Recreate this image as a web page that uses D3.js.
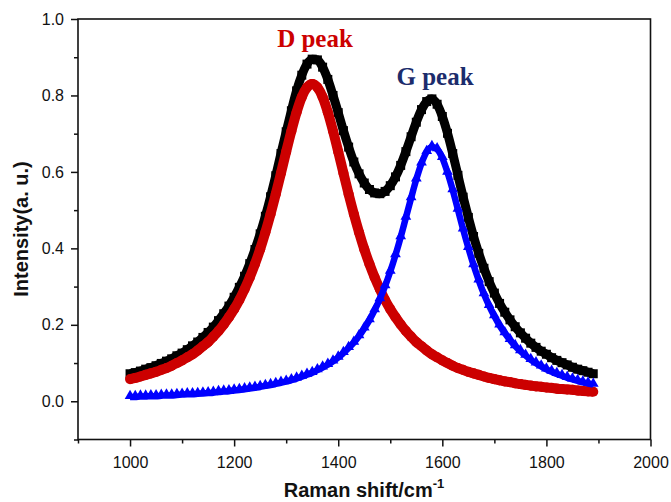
<!DOCTYPE html>
<html>
<head>
<meta charset="utf-8">
<script src="https://cdn.jsdelivr.net/npm/d3@7"></script>
<style>
  body { margin: 0; background: #fff; }
  svg { display: block; }
  .tick text { font-family: "Liberation Sans", Arial, sans-serif; font-size: 16px; fill: #111; }
</style>
</head>
<body>
<svg id="chart" width="671" height="502"></svg>
<script>
// Raman shift values (cm-1)
const shift = [1000, 1010, 1020, 1030, 1040, 1050, 1060, 1070, 1080, 1090,
  1100, 1110, 1120, 1130, 1140, 1150, 1160, 1170, 1180, 1190,
  1200, 1210, 1220, 1230, 1240, 1250, 1260, 1270, 1280, 1290,
  1300, 1310, 1320, 1330, 1340, 1350, 1360, 1370, 1380, 1390,
  1400, 1410, 1420, 1430, 1440, 1450, 1460, 1470, 1480, 1490,
  1500, 1510, 1520, 1530, 1540, 1550, 1560, 1570, 1580, 1590,
  1600, 1610, 1620, 1630, 1640, 1650, 1660, 1670, 1680, 1690,
  1700, 1710, 1720, 1730, 1740, 1750, 1760, 1770, 1780, 1790,
  1800, 1810, 1820, 1830, 1840, 1850, 1860, 1870, 1880, 1890];

// measured spectrum (black squares)
const total = [0.072, 0.075, 0.079, 0.084, 0.088, 0.093, 0.099, 0.105, 0.111, 0.119,
  0.126, 0.135, 0.145, 0.155, 0.167, 0.180, 0.194, 0.211, 0.229, 0.249,
  0.272, 0.298, 0.327, 0.360, 0.397, 0.438, 0.484, 0.535, 0.590, 0.648,
  0.705, 0.760, 0.812, 0.853, 0.882, 0.895, 0.893, 0.874, 0.842, 0.800,
  0.755, 0.708, 0.665, 0.626, 0.595, 0.571, 0.554, 0.545, 0.543, 0.549,
  0.564, 0.587, 0.617, 0.653, 0.692, 0.730, 0.763, 0.784, 0.791, 0.777,
  0.745, 0.701, 0.648, 0.591, 0.534, 0.481, 0.431, 0.387, 0.348, 0.313,
  0.283, 0.256, 0.233, 0.213, 0.195, 0.179, 0.165, 0.152, 0.141, 0.131,
  0.123, 0.114, 0.107, 0.101, 0.095, 0.089, 0.084, 0.080, 0.076, 0.072];

// D band fit (red circles)
const dPeak = [0.058, 0.061, 0.065, 0.069, 0.073, 0.077, 0.082, 0.087, 0.093, 0.100,
  0.107, 0.115, 0.123, 0.133, 0.144, 0.155, 0.169, 0.184, 0.201, 0.220,
  0.241, 0.265, 0.293, 0.324, 0.359, 0.398, 0.442, 0.490, 0.542, 0.597,
  0.653, 0.707, 0.756, 0.796, 0.821, 0.830, 0.821, 0.796, 0.756, 0.707,
  0.653, 0.597, 0.542, 0.490, 0.442, 0.398, 0.359, 0.324, 0.293, 0.265,
  0.241, 0.220, 0.201, 0.184, 0.169, 0.155, 0.144, 0.133, 0.123, 0.115,
  0.107, 0.100, 0.093, 0.087, 0.082, 0.077, 0.073, 0.069, 0.065, 0.061,
  0.058, 0.055, 0.052, 0.050, 0.047, 0.045, 0.043, 0.041, 0.039, 0.038,
  0.036, 0.035, 0.033, 0.032, 0.031, 0.030, 0.028, 0.027, 0.026, 0.025];

// G band fit (blue triangles)
const gPeak = [0.014, 0.014, 0.015, 0.015, 0.016, 0.016, 0.017, 0.018, 0.018, 0.019,
  0.020, 0.021, 0.021, 0.022, 0.023, 0.024, 0.025, 0.027, 0.028, 0.029,
  0.031, 0.032, 0.034, 0.036, 0.038, 0.040, 0.043, 0.045, 0.048, 0.051,
  0.054, 0.058, 0.062, 0.067, 0.072, 0.077, 0.084, 0.091, 0.098, 0.107,
  0.117, 0.129, 0.142, 0.156, 0.173, 0.193, 0.215, 0.241, 0.270, 0.304,
  0.342, 0.385, 0.432, 0.483, 0.534, 0.583, 0.625, 0.655, 0.668, 0.662,
  0.639, 0.601, 0.555, 0.504, 0.452, 0.404, 0.359, 0.319, 0.283, 0.252,
  0.225, 0.201, 0.181, 0.163, 0.147, 0.134, 0.122, 0.111, 0.102, 0.094,
  0.086, 0.080, 0.074, 0.069, 0.064, 0.060, 0.056, 0.052, 0.049, 0.046];

const xMajor = [1000, 1200, 1400, 1600, 1800, 2000];
const xMinor = [900, 1100, 1300, 1500, 1700, 1900];
const yMajor = [0.0, 0.2, 0.4, 0.6, 0.8, 1.0];
const yMinor = [-0.1, 0.1, 0.3, 0.5, 0.7, 0.9];

const svg = d3.select('#chart');

const x = d3.scaleLinear().domain([900, 2000]).range([78, 650.5]);
const y = d3.scaleLinear().domain([-0.1, 1.0]).range([439.5, 19]);

// minor ticks
svg.append('g')
  .attr('transform', 'translate(0,439.5)')
  .call(d3.axisBottom(x).tickValues(xMinor).tickSize(4).tickFormat(''))
  .call(g => g.select('.domain').remove());
svg.append('g')
  .attr('transform', 'translate(78,0)')
  .call(d3.axisLeft(y).tickValues(yMinor).tickSize(4).tickFormat(''))
  .call(g => g.select('.domain').remove());

// major ticks
svg.append('g')
  .attr('transform', 'translate(0,439.5)')
  .call(d3.axisBottom(x).tickValues(xMajor).tickSize(7).tickPadding(10).tickFormat(d3.format('d')))
  .call(g => g.select('.domain').remove());
svg.append('g')
  .attr('transform', 'translate(78,0)')
  .call(d3.axisLeft(y).tickValues(yMajor).tickSize(7).tickPadding(7).tickFormat(d3.format('.1f')))
  .call(g => g.select('.domain').remove());

svg.selectAll('.tick line').attr('stroke', '#111').attr('stroke-width', 1.5);

// frame
svg.append('rect')
  .attr('x', x(900)).attr('y', y(1.0))
  .attr('width', x(2000) - x(900)).attr('height', y(-0.1) - y(1.0))
  .attr('fill', 'none').attr('stroke', '#111').attr('stroke-width', 1.6);

// series: dense symbols drawn over a thick band so they read as one chain
const series = [
  { values: total, type: d3.symbolSquare, size: 81, color: '#000000', band: 9, dy: 0 },
  { values: dPeak, type: d3.symbolCircle, size: 80, color: '#cc0000', band: 10, dy: 0 },
  { values: gPeak, type: d3.symbolTriangle, size: 50, color: '#0000ff', band: 6.5, dy: 1 }
];

const line = d3.line().x(d => x(d[0])).y(d => y(d[1])).curve(d3.curveMonotoneX);

series.forEach(s => {
  const pts = shift.map((v, i) => [v, s.values[i]]);
  const g = svg.append('g');
  g.append('path')
    .datum(pts)
    .attr('d', line)
    .attr('transform', `translate(0,${s.dy})`)
    .attr('fill', 'none')
    .attr('stroke', s.color)
    .attr('stroke-width', s.band)
    .attr('stroke-linejoin', 'round')
    .attr('stroke-linecap', 'butt');
  const sym = d3.symbol().type(s.type).size(s.size);
  g.selectAll('path.pt')
    .data(pts)
    .join('path')
    .attr('class', 'pt')
    .attr('d', sym)
    .attr('transform', d => `translate(${x(d[0])},${y(d[1])})`)
    .attr('fill', s.color);
});

// peak labels
svg.append('text')
  .attr('x', 315).attr('y', 47)
  .attr('text-anchor', 'middle')
  .style('font-family', '"Liberation Serif", "Times New Roman", serif')
  .style('font-weight', 'bold').style('font-size', '25px')
  .attr('fill', '#cc0000')
  .text('D peak');

svg.append('text')
  .attr('x', 435).attr('y', 85)
  .attr('text-anchor', 'middle')
  .style('font-family', '"Liberation Serif", "Times New Roman", serif')
  .style('font-weight', 'bold').style('font-size', '25px')
  .attr('fill', '#1c2c6c')
  .text('G peak');

// axis titles
const xTitle = svg.append('text')
  .attr('x', 364).attr('y', 497)
  .attr('text-anchor', 'middle')
  .style('font-family', '"Liberation Sans", Arial, sans-serif')
  .style('font-weight', 'bold').style('font-size', '20px')
  .attr('fill', '#111');
xTitle.append('tspan').text('Raman shift/cm');
xTitle.append('tspan').attr('dy', -9).style('font-size', '13px').text('-1');

svg.append('text')
  .attr('transform', 'translate(28,229) rotate(-90)')
  .attr('text-anchor', 'middle')
  .style('font-family', '"Liberation Sans", Arial, sans-serif')
  .style('font-weight', 'bold').style('font-size', '20px')
  .attr('fill', '#111')
  .text('Intensity(a. u.)');
</script>
</body>
</html>
